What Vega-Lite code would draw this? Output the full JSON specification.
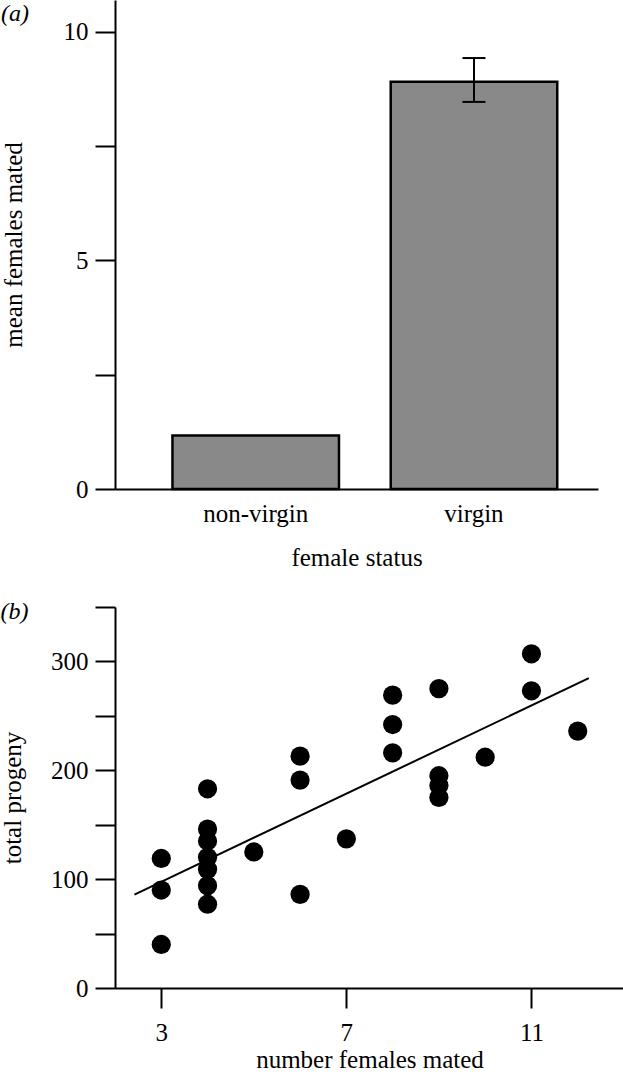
{
  "$schema": "https://vega.github.io/schema/vega-lite/v6.json",
  "padding": {"left": 0, "top": 0, "right": 0, "bottom": 0},
  "autosize": {"type": "pad"},
  "background": "white",
  "config": {
    "font": "Liberation Serif",
    "view": {"stroke": null},
    "axis": {
      "domainColor": "black", "domainWidth": 2,
      "tickColor": "black", "tickWidth": 2, "tickSize": 20,
      "labelFont": "Liberation Serif", "labelFontSize": 25, "labelColor": "black",
      "titleFont": "Liberation Serif", "titleFontSize": 25, "titleFontWeight": "normal", "titleColor": "black",
      "grid": false, "labelPadding": 7, "labelFlush": false, "labelOverlap": false
    },
    "title": {"font": "Liberation Serif", "fontSize": 24, "fontWeight": "normal", "color": "black", "anchor": "start", "frame": "bounds"},
    "concat": {"spacing": 25}
  },
  "datasets": {
    "bars": [
      {"status": "non-virgin", "mean": 1.17},
      {"status": "virgin", "mean": 8.91, "lo": 8.47, "hi": 9.43}
    ],
    "points": [
      {"females": 3, "progeny": 119},
      {"females": 3, "progeny": 90},
      {"females": 3, "progeny": 40},
      {"females": 4, "progeny": 183},
      {"females": 4, "progeny": 146},
      {"females": 4, "progeny": 135},
      {"females": 4, "progeny": 120},
      {"females": 4, "progeny": 109},
      {"females": 4, "progeny": 94},
      {"females": 4, "progeny": 77},
      {"females": 5, "progeny": 125},
      {"females": 6, "progeny": 213},
      {"females": 6, "progeny": 191},
      {"females": 6, "progeny": 86},
      {"females": 7, "progeny": 137},
      {"females": 8, "progeny": 269},
      {"females": 8, "progeny": 242},
      {"females": 8, "progeny": 216},
      {"females": 9, "progeny": 275},
      {"females": 9, "progeny": 195},
      {"females": 9, "progeny": 186},
      {"females": 9, "progeny": 175},
      {"females": 10, "progeny": 212},
      {"females": 11, "progeny": 307},
      {"females": 11, "progeny": 273},
      {"females": 12, "progeny": 236}
    ],
    "fit": [
      {"females": 2.42, "progeny": 85.8},
      {"females": 12.24, "progeny": 284.6}
    ]
  },
  "vconcat": [
    {
      "width": 483,
      "height": 489,
      "title": {"text": "(a)", "offset": -26, "fontStyle": "italic"},
      "data": {"name": "bars"},
      "encoding": {
        "x": {
          "field": "status", "type": "nominal", "sort": ["non-virgin", "virgin"],
          "scale": {"paddingInner": 0.237, "paddingOuter": 0.225, "align": 0.585},
          "axis": {"title": "female status", "labelAngle": 0, "ticks": false, "tickSize": 0, "labelPadding": 12, "titlePadding": 19}
        }
      },
      "layer": [
        {
          "mark": {"type": "bar", "color": "#898989", "stroke": "black", "strokeWidth": 2.5},
          "encoding": {
            "y": {
              "field": "mean", "type": "quantitative", "title": "mean females mated",
              "scale": {"domain": [0, 10.7], "nice": false},
              "axis": {"values": [0, 2.5, 5, 7.5, 10], "labelExpr": "datum.value % 5 == 0 ? datum.label : ''", "titlePadding": 37}
            }
          }
        },
        {
          "transform": [{"filter": "isValid(datum.hi)"}],
          "mark": {"type": "rule", "color": "black", "strokeWidth": 2},
          "encoding": {
            "y": {"field": "lo", "type": "quantitative", "title": "mean females mated"},
            "y2": {"field": "hi"}
          }
        },
        {
          "transform": [{"filter": "isValid(datum.hi)"}],
          "mark": {"type": "tick", "color": "black", "thickness": 2, "size": 23, "opacity": 1},
          "encoding": {
            "y": {"field": "hi", "type": "quantitative", "title": "mean females mated"}
          }
        },
        {
          "transform": [{"filter": "isValid(datum.lo)"}],
          "mark": {"type": "tick", "color": "black", "thickness": 2, "size": 23, "opacity": 1},
          "encoding": {
            "y": {"field": "lo", "type": "quantitative", "title": "mean females mated"}
          }
        }
      ]
    },
    {
      "width": 509,
      "height": 381,
      "title": {"text": "(b)", "offset": -29, "fontStyle": "italic"},
      "layer": [
        {
          "data": {"name": "points"},
          "mark": {"type": "circle", "size": 370, "color": "black", "opacity": 1},
          "encoding": {
            "x": {
              "field": "females", "type": "quantitative", "title": "number females mated",
              "scale": {"domain": [2, 13], "nice": false},
              "axis": {"values": [3, 7, 11], "labelPadding": 12, "titlePadding": 2}
            },
            "y": {
              "field": "progeny", "type": "quantitative", "title": "total progeny",
              "scale": {"domain": [0, 350], "nice": false},
              "axis": {"values": [0, 50, 100, 150, 200, 250, 300, 350], "labelExpr": "datum.value % 100 == 0 ? datum.label : ''", "titlePadding": 25}
            }
          }
        },
        {
          "data": {"name": "fit"},
          "mark": {"type": "line", "color": "black", "strokeWidth": 2},
          "encoding": {
            "x": {"field": "females", "type": "quantitative", "title": "number females mated"},
            "y": {"field": "progeny", "type": "quantitative", "title": "total progeny"}
          }
        }
      ]
    }
  ]
}
